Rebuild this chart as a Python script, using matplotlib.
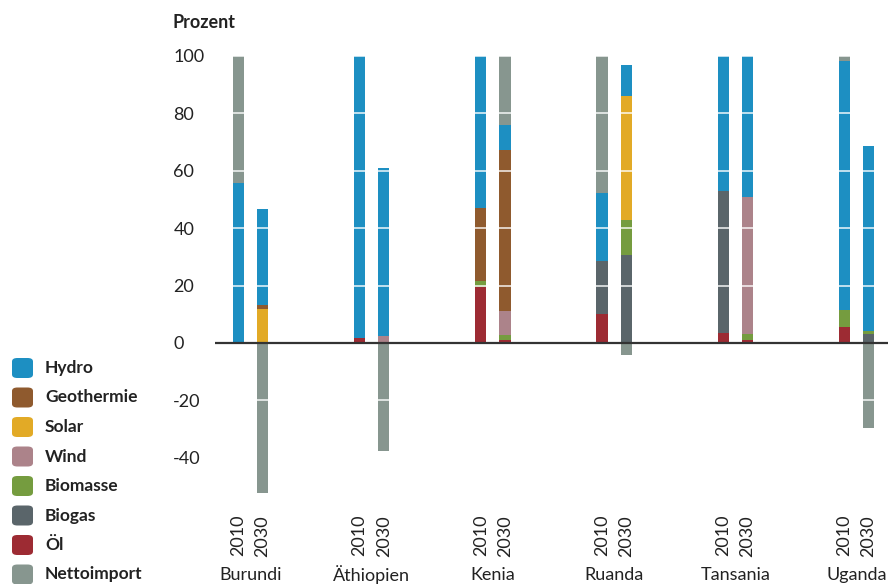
import matplotlib
matplotlib.use('Agg')
import matplotlib.pyplot as plt
import matplotlib.transforms as mtransforms
from matplotlib.patches import FancyBboxPatch
import numpy as np

plt.rcParams['font.family'] = ['Lato', 'DejaVu Sans']

countries = ['Burundi', 'Äthiopien', 'Kenia', 'Ruanda', 'Tansania', 'Uganda']
years = ['2010', '2030']

# one value per bar: B10, B30, Ä10, Ä30, K10, K30, R10, R30, T10, T30, U10, U30
oel = [0, 0, 1.7, 0, 19.5, 1.0, 10.0, 0, 3.4, 0.9, 5.5, 0]
biogas = [0, 0, 0, 0, 0, 0, 18.4, 30.5, 49.7, 0, 0, 3.0]
biomasse = [0, 0, 0, 0, 2.0, 1.7, 0, 12.2, 0, 2.1, 5.9, 1.1]
wind = [0, 0, 0, 2.4, 0, 8.3, 0, 0, 0, 48.0, 0, 0]
solar = [0, 11.7, 0, 0, 0, 0, 0, 43.5, 0, 0, 0, 0]
geothermie = [0, 1.4, 0, 0, 25.5, 56.1, 0, 0, 0, 0, 0, 0]
hydro = [55.6, 33.4, 98.3, 58.7, 53.0, 8.7, 24.0, 10.8, 46.9, 49.0, 87.0, 64.7]
nettoimport = [44.4, -52.2, 0, -37.6, 0, 24.2, 47.6, -4.3, 0, 0, 1.6, -29.6]

# stacking order, bottom to top
stack = [
    ('Öl', oel, '#9d2b33'),
    ('Biogas', biogas, '#5a656a'),
    ('Biomasse', biomasse, '#759c3f'),
    ('Wind', wind, '#ac838a'),
    ('Solar', solar, '#e2aa26'),
    ('Geothermie', geothermie, '#8f5a2e'),
    ('Hydro', hydro, '#1d8fc2'),
    ('Nettoimport', nettoimport, '#87968f'),
]
legend_order = ['Hydro', 'Geothermie', 'Solar', 'Wind', 'Biomasse',
                'Biogas', 'Öl', 'Nettoimport']

fig = plt.figure(figsize=(8.88, 5.84), dpi=100)
ax = fig.add_axes([215 / 888, 69 / 584, 673 / 888, 459 / 584])

offset = 0.1
width = 0.092
x = np.array([i + d for i in range(len(countries)) for d in (-offset, offset)])

bottom = np.zeros(len(x))
for name, vals, color in stack:
    vals = np.array(vals, dtype=float)
    pos = np.where(vals > 0, vals, 0)
    neg = np.where(vals < 0, vals, 0)
    ax.bar(x, pos, width, bottom=bottom, color=color, linewidth=0, zorder=2)
    if neg.any():
        ax.bar(x, neg, width, bottom=0, color=color, linewidth=0, zorder=2)
    bottom += pos

# white grid lines drawn over the bars
for yv in [-20, 20, 40, 60, 80, 100]:
    ax.axhline(yv, color='white', linewidth=1.2, alpha=0.85, zorder=3)
ax.axhline(0, color='#333333', linewidth=1.6, zorder=4)

ax.set_xlim(-0.293, 5.26)
ax.set_ylim(-60, 100)
for s in ax.spines.values():
    s.set_visible(False)

ax.set_yticks([-40, -20, 0, 20, 40, 60, 80, 100])
ax.set_yticklabels(['-40', '-20', '0', '20', '40', '60', '80', '100'])
ax.tick_params(axis='y', length=0, pad=30, labelsize=13, labelcolor='#222222')
for lab in ax.get_yticklabels():
    lab.set_horizontalalignment('left')

ax.set_xticks(x)
ax.set_xticklabels(years * len(countries), rotation=90, va='top', ha='center')
ax.tick_params(axis='x', length=0, pad=0, labelsize=13, labelcolor='#222222')

trans = mtransforms.blended_transform_factory(ax.transData, fig.transFigure)
for i, c in enumerate(countries):
    ax.text(i, 9 / 584, c, transform=trans, ha='center', va='center',
            fontsize=13, color='#222222')

fig.text(172 / 888, 1 - 22 / 584, 'Prozent', fontsize=13, fontweight='bold',
         color='#222222', va='center')

# legend
colors = {name: color for name, _, color in stack}
for k, name in enumerate(legend_order):
    yc = 368 + k * 29.5
    box = FancyBboxPatch((12 / 888, 1 - (yc + 10) / 584), 21 / 888, 20 / 584,
                         boxstyle='round,pad=0,rounding_size=0.006',
                         transform=fig.transFigure, facecolor=colors[name],
                         edgecolor='none')
    fig.patches.append(box)
    fig.text(45 / 888, 1 - yc / 584, name, fontsize=12.5, fontweight='bold',
             color='#222222', va='center')

fig.savefig('out.png', dpi=100)
